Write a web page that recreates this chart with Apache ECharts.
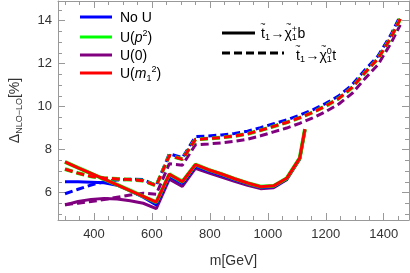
<!DOCTYPE html>
<html><head><meta charset="utf-8">
<script src="https://cdn.jsdelivr.net/npm/echarts@6/dist/echarts.min.js"></script>
<style>html,body{margin:0;padding:0;background:#fff}#c{width:410px;height:273px}</style>
</head><body><div id="c"></div>
<script>
// x grids (GeV)
const solidX = [300,345,390,435,480,525,570,615,660,705,750,795,840,885,930,975,1020,1065,1110,1128];
const dashX  = [300,345,390,435,480,525,570,615,660,705,750,795,840,885,930,975,1020,1065,1110,1155,1200,1245,1290,1335,1380,1425,1457];

// t1 -> chi+ b (solid)
const noU_b  = [6.50,6.50,6.48,6.45,6.34,6.08,5.78,5.42,6.75,6.42,7.22,7.00,6.80,6.59,6.40,6.23,6.27,6.62,7.57,8.92];
const up2_b  = [7.42,7.15,6.89,6.62,6.36,6.09,5.82,5.55,6.85,6.50,7.30,7.06,6.86,6.64,6.44,6.27,6.31,6.66,7.60,8.95];
const u0_b   = [5.42,5.58,5.68,5.72,5.70,5.62,5.50,5.25,6.62,6.28,7.12,6.92,6.72,6.52,6.34,6.18,6.22,6.60,7.55,8.90];
const um2_b  = [7.42,7.15,6.89,6.62,6.36,6.09,5.82,5.55,6.85,6.50,7.30,7.06,6.86,6.64,6.44,6.27,6.31,6.66,7.60,8.95];

// t1 -> chi0 t (dashed)
const noU_t  = [5.94,6.15,6.35,6.50,6.58,6.62,6.60,6.33,7.80,7.62,8.60,8.63,8.68,8.75,8.85,9.02,9.20,9.38,9.60,9.85,10.15,10.50,11.00,11.70,12.35,13.35,14.22];
const up2_t  = [7.09,6.90,6.75,6.67,6.63,6.60,6.55,6.32,7.72,7.55,8.47,8.51,8.56,8.63,8.73,8.90,9.08,9.26,9.48,9.73,10.03,10.38,10.88,11.58,12.23,13.22,14.08];
const u0_t   = [5.44,5.50,5.58,5.67,5.78,5.88,5.97,5.92,7.34,7.27,8.22,8.26,8.31,8.38,8.48,8.64,8.82,9.00,9.22,9.47,9.77,10.12,10.60,11.30,11.95,12.95,13.80];
const um2_t  = [7.09,6.90,6.75,6.67,6.63,6.60,6.55,6.32,7.72,7.55,8.47,8.51,8.56,8.63,8.73,8.90,9.08,9.26,9.48,9.73,10.03,10.38,10.88,11.58,12.23,13.22,14.08];

// ticks
const xLabels = [400,600,800,1000,1200,1400];
const xMinor = [300,350,450,500,550,650,700,750,850,900,950,1050,1100,1150,1250,1300,1350,1450];
const yLabels = [6,8,10,12,14];
const yMinor = [5,5.5,6.5,7,7.5,8.5,9,9.5,10.5,11,11.5,12.5,13,13.5,14.5];

const seriesNames = ['No U','U(p²)','U(0)','U(m₁²)'];
const colors = ['#0000ff','#00ff00','#800080','#ff0000'];

const X_MIN = 275.8, X_MAX = 1487.2, Y_MIN = 4.72, Y_MAX = 14.914;
const FONT = '"Liberation Sans", Arial, sans-serif';
const frame = '#999999';

const chart = echarts.init(document.getElementById('c'), null, {renderer:'canvas'});

function xa(pos, vals, len, labels, extra){
  return Object.assign({
    type:'value', min:X_MIN, max:X_MAX, position:pos, gridIndex:0,
    axisLine:{show:true, onZero:false, lineStyle:{color:frame, width:1}},
    axisTick:{show:true, inside:true, length:len, customValues:vals, lineStyle:{color:frame}},
    axisLabel: labels ? {show:true, customValues:labels, formatter:v=>String(v), color:'#333', fontSize:13, fontFamily:FONT, margin:8} : {show:false},
    splitLine:{show:false}
  }, extra||{});
}
function ya(pos, vals, len, labels, extra){
  return Object.assign({
    type:'value', min:Y_MIN, max:Y_MAX, position:pos, gridIndex:0,
    axisLine:{show:true, onZero:false, lineStyle:{color:frame, width:1}},
    axisTick:{show:true, inside:true, length:len, customValues:vals, lineStyle:{color:frame}},
    axisLabel: labels ? {show:true, customValues:labels, formatter:v=>String(v), color:'#333', fontSize:13, fontFamily:FONT, margin:6} : {show:false},
    splitLine:{show:false}
  }, extra||{});
}

const sets = [
  {name:seriesNames[2], col:colors[2], b:u0_b,  t:u0_t,  w:3},
  {name:seriesNames[0], col:colors[0], b:noU_b, t:noU_t, w:3},
  {name:seriesNames[1], col:colors[1], b:up2_b, t:up2_t, w:3.8},
  {name:seriesNames[3], col:colors[3], b:um2_b, t:um2_t, w:3}
];
const series = [];
sets.forEach(s=>{
  series.push({type:'line', name:s.name, data:solidX.map((x,i)=>[x,s.b[i]]), showSymbol:false, symbol:'none',
    lineStyle:{color:s.col, width:s.w, type:'solid'}, itemStyle:{color:s.col}, clip:true});
  series.push({type:'line', name:s.name, data:dashX.map((x,i)=>[x,s.t[i]]), showSymbol:false, symbol:'none',
    lineStyle:{color:s.col, width:s.w, type:[8,4]}, itemStyle:{color:s.col}, clip:true});
});

// legend graphics
const legY = [17,37,55,73];
const legText = [
  '{n|No U}',
  '{n|U(}{i|p}{sup|2}{n|)}',
  '{n|U(0)}',
  '{n|U(}{i|m}{sub|1}{sup|2}{n|)}'
];
const rich = {
  n:{fontSize:14, fontFamily:FONT, color:'#000', lineHeight:18, verticalAlign:'middle'},
  i:{fontSize:14, fontFamily:FONT, fontStyle:'italic', color:'#000', lineHeight:18},
  sup:{fontSize:9, fontFamily:FONT, color:'#000', lineHeight:18, verticalAlign:'top', padding:[0,0,8,0]},
  sub:{fontSize:9, fontFamily:FONT, color:'#000', lineHeight:18, verticalAlign:'bottom', padding:[6,0,0,0]}
};
const graphic = [];
[0,1,2,3].forEach((k,j)=>{
  graphic.push({type:'line', shape:{x1:80,y1:legY[j],x2:112,y2:legY[j]}, style:{stroke:colors[k], lineWidth:3}, z:100});
  graphic.push({type:'text', x:120, y:legY[j]+1, style:{text:legText[j], rich:rich, verticalAlign:'middle', align:'left'}, z:100});
});
graphic.push({type:'line', shape:{x1:222,y1:33,x2:255,y2:33}, style:{stroke:'#000', lineWidth:3}, z:100});
graphic.push({type:'line', shape:{x1:222,y1:53,x2:284,y2:53}, style:{stroke:'#000', lineWidth:3, lineDash:[8,4]}, z:100});

// process labels laid out piece by piece (tilde accents, stacked sub/superscripts)
const mctx = document.createElement('canvas').getContext('2d');
function tw(t, size){ mctx.font = size + 'px ' + FONT; return mctx.measureText(t).width; }
function addText(t, x, y, size){
  graphic.push({type:'text', x:x, y:y, style:{text:t, font:size+'px '+FONT, fill:'#000', verticalAlign:'middle', align:'left'}, z:100});
}
function procLabel(x0, y, sup, last){
  let x = x0;
  // t with tilde
  addText('t', x, y, 14); addText('~', x + tw('t',14)/2 - tw('~',9)/2, y - 9, 9);
  x += tw('t',14);
  addText('1', x, y + 4, 9); x += tw('1',9) + 0.5;
  addText('\u2192', x, y, 14); x += tw('\u2192',14);
  addText('\u03c7', x, y, 14); addText('~', x + tw('\u03c7',14)/2 - tw('~',9)/2 + 0.5, y - 9, 9);
  x += tw('\u03c7',14);
  addText('1', x, y + 4, 9); addText(sup, x, y - 4, 9); x += Math.max(tw('1',9), tw(sup,9)) + 0.5;
  addText(last, x, y, 14);
}
procLabel(261, 34, '+', 'b');
procLabel(296, 56, '0', 't');

chart.setOption({
  animation:false,
  backgroundColor:'#fff',
  grid:{left:48, right:1, top:1, bottom:49, containLabel:false},
  xAxis:[
    xa('bottom', xLabels, 7, xLabels, {name:'m[GeV]', nameLocation:'middle', nameGap:34, nameTextStyle:{fontSize:14, fontFamily:FONT, color:'#333'}}),
    xa('bottom', xMinor, 4, null, {axisLine:{show:false}}),
    xa('top', xLabels, 7, null),
    xa('top', xMinor, 4, null, {axisLine:{show:false}})
  ],
  yAxis:[
    ya('left', yLabels, 7, yLabels, {name:'{d|Δ}{s|NLO−LO}{d|[%]}', nameLocation:'middle', nameGap:34, nameRotate:90,
      nameTextStyle:{rich:{d:{fontSize:14, fontFamily:FONT, color:'#333', lineHeight:18}, s:{fontSize:9, fontFamily:FONT, color:'#333', lineHeight:18, verticalAlign:'bottom', padding:[6,0,0,0]}}}}),
    ya('left', yMinor, 4, null, {axisLine:{show:false}}),
    ya('right', yLabels, 7, null),
    ya('right', yMinor, 4, null, {axisLine:{show:false}})
  ],
  series: series,
  graphic: graphic
});
</script></body></html>
